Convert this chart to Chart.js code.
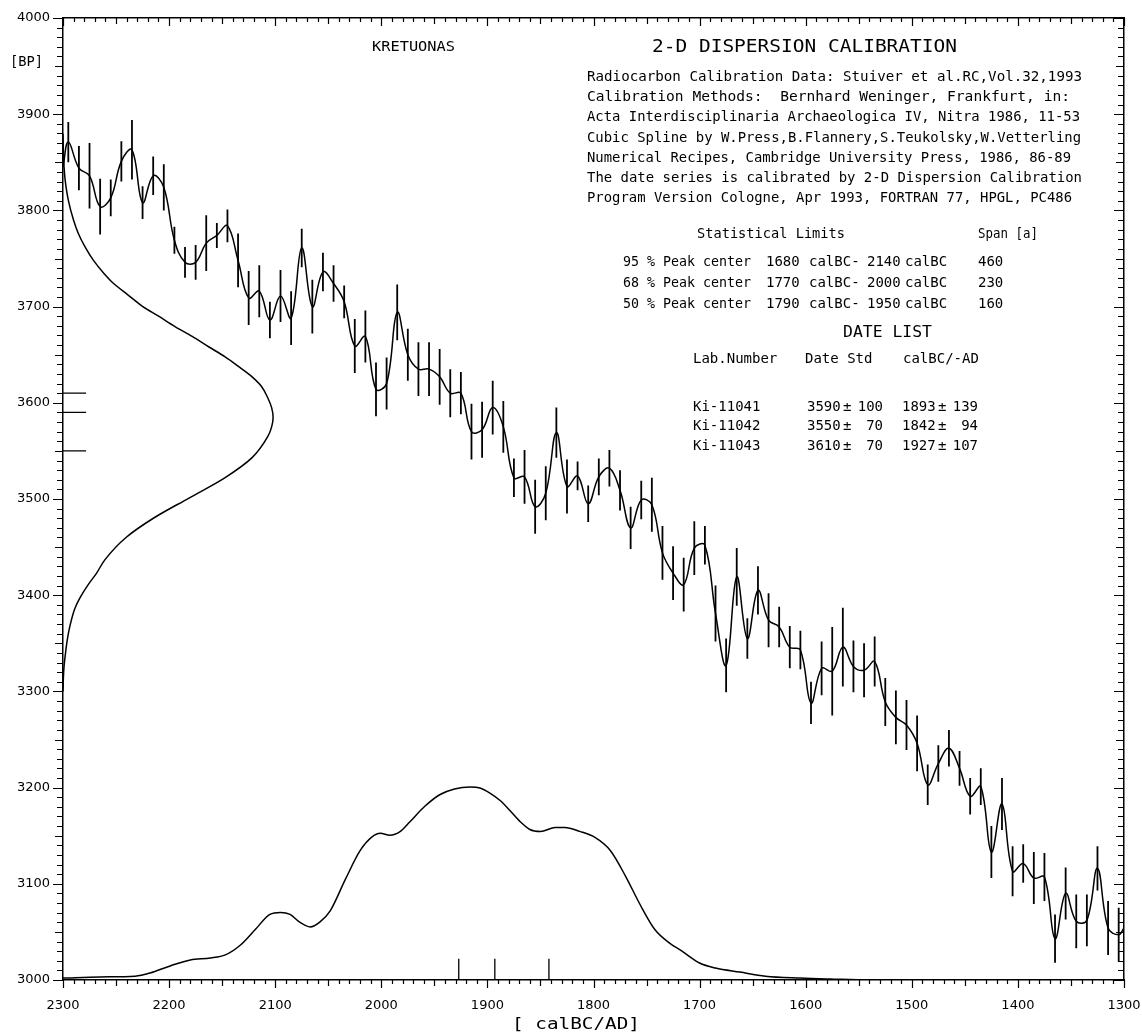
<!DOCTYPE html>
<html>
<head>
<meta charset="utf-8">
<script src="https://cdn.jsdelivr.net/npm/chart.js@4.4.1/dist/chart.umd.min.js"></script>
<style>
html,body{margin:0;padding:0;background:#fff;}
canvas{display:block;}
</style>
</head>
<body>
<canvas id="c" width="1142" height="1032"></canvas>
<script>
// ---------------- data ----------------
const calYears = [2300,
  2295,2285,2275,2265,2255,2245,2235,2225,2215,2205,2195,2185,2175,2165,2155,2145,2135,2125,2115,2105,
  2095,2085,2075,2065,2055,2045,2035,2025,2015,2005,1995,1985,1975,1965,1955,1945,1935,1925,1915,1905,
  1895,1885,1875,1865,1855,1845,1835,1825,1815,1805,1795,1785,1775,1765,1755,1745,1735,1725,1715,1705,
  1695,1685,1675,1665,1655,1645,1635,1625,1615,1605,1595,1585,1575,1565,1555,1545,1535,1525,1515,1505,
  1495,1485,1475,1465,1455,1445,1435,1425,1415,1405,1395,1385,1375,1365,1355,1345,1335,1325,1315,1305,
  1300];
const calBP = [3845,
  3871,3844,3836,3804,3813,3851,3863,3808,3836,3824,3769,3746,3746,3766,3774,3784,3748,3709,3716,3686,
  3711,3688,3761,3700,3736,3724,3705,3659,3669,3614,3620,3694,3650,3635,3635,3627,3610,3610,3570,3572,
  3595,3575,3522,3523,3492,3506,3569,3513,3524,3495,3523,3532,3509,3470,3499,3494,3444,3423,3411,3449,
  3452,3381,3327,3419,3355,3405,3374,3367,3346,3343,3288,3324,3321,3346,3326,3322,3331,3289,3273,3265,
  3246,3203,3225,3241,3220,3191,3201,3133,3183,3113,3121,3106,3107,3043,3090,3061,3062,3116,3054,3047,
  3054];
const calErr = [0,
  21,23,34,29,19,21,31,17,20,24,14,16,18,29,13,17,28,28,27,19,
  27,28,20,28,20,19,17,28,27,28,27,29,27,28,28,29,25,22,29,29,
  28,27,20,28,28,28,26,28,15,19,19,19,21,22,20,28,28,28,28,28,
  20,29,28,30,21,25,28,21,22,20,22,28,46,41,27,28,26,25,28,26,
  29,21,19,19,18,19,19,27,27,26,20,27,25,25,27,28,27,23,28,28,
  0];

// probability of the measured dates on the BP axis (relative)
const bpDensBP = [3880,3860,3845,3832,3811,3790,3776,3762,3748,3735,3724,3712,3700,3690,3679,3669,3658,3648,3637,3627,3617,3605,3595,3585,3575,3565,3543,3522,3501,3480,3460,3437,3423,3411,3397,3386,3367,3353,3338,3326,3315,3300];
const bpDens   = [0,0.002,0.005,0.01,0.025,0.05,0.073,0.105,0.145,0.193,0.241,0.31,0.38,0.455,0.535,0.615,0.695,0.77,0.84,0.9,0.945,0.975,0.993,1.0,0.993,0.975,0.9,0.77,0.6,0.43,0.3,0.2,0.16,0.12,0.08,0.056,0.032,0.02,0.011,0.005,0.002,0];

// calibrated probability on the calendar axis (relative)
const calDensYears = [2300,2265,2232,2218,2199,2180,2161,2147,2133,2119,2105,2095,2086,2077,2067,2058,2048,2034,2020,2009,2001,1992,1982,1973,1959,1945,1931,1916,1907,1898,1888,1879,1869,1860,1850,1836,1827,1813,1799,1784,1770,1756,1742,1728,1718,1700,1685,1662,1638,1605,1577,1539,1511];
const calDens      = [0.01,0.016,0.02,0.036,0.073,0.104,0.114,0.13,0.18,0.26,0.34,0.35,0.34,0.30,0.275,0.30,0.36,0.52,0.67,0.74,0.76,0.75,0.77,0.82,0.90,0.96,0.99,1.0,0.995,0.97,0.93,0.88,0.82,0.78,0.77,0.79,0.79,0.77,0.74,0.67,0.54,0.39,0.26,0.19,0.155,0.088,0.062,0.041,0.02,0.01,0.005,0,0];

// date list
const labIds  = ['Ki-11041','Ki-11042','Ki-11043'];
const labBP   = [3590,3550,3610];
const labStd  = [100,70,70];
const calMean = [1893,1842,1927];
const calStd  = [139,94,107];

// statistical limits
const statPct  = [95,68,50];
const statFrom = [1680,1770,1790];
const statTo   = [2140,2000,1950];
const statSpan = [460,230,160];

// axis tick labels
const xTickVals = [2300,2200,2100,2000,1900,1800,1700,1600,1500,1400,1300];
const yTickVals = [3000,3100,3200,3300,3400,3500,3600,3700,3800,3900,4000];
const markerLen = 0.11; // relative length of the date markers

// ---------------- build datasets ----------------
const curvePts = calYears.map((x,i)=>({x, y: calBP[i]}));
const errPts = [];
calYears.forEach((x,i)=>{
  if (calErr[i] > 0) {
    errPts.push({x, y: calBP[i]-calErr[i]}, {x, y: calBP[i]+calErr[i]}, {x: NaN, y: NaN});
  }
});
const bpDensPts = bpDensBP.map((y,i)=>({x: bpDens[i], y}));
const calDensPts = calDensYears.map((x,i)=>({x, y: calDens[i]}));
const bpMarkPts = [];
labBP.forEach(v=>{ bpMarkPts.push({x:0,y:v},{x:markerLen,y:v},{x:NaN,y:NaN}); });
const calMarkPts = [];
calMean.forEach(v=>{ calMarkPts.push({x:v,y:0},{x:v,y:markerLen},{x:NaN,y:NaN}); });

const baseLine = {type:'line', pointRadius:0, borderColor:'#000', fill:false, spanGaps:false};

const FONT = '"DejaVu Sans", "Liberation Sans", sans-serif';
const MONO = '"DejaVu Sans Mono", monospace';

// text, optionally stretched horizontally to the width it has in the picture
function drawText(ctx, s, x, y, size, width, align) {
  ctx.font = size + 'px ' + MONO;
  const nat = ctx.measureText(s).width;
  const w = width || nat;
  const sx = w / nat;
  let x0 = x;
  if (align === 'right') x0 = x - w;
  if (align === 'center') x0 = x - w/2;
  ctx.save();
  ctx.translate(x0, y);
  ctx.scale(sx, 1);
  ctx.textBaseline = 'middle';
  ctx.textAlign = 'left';
  ctx.fillText(s, 0, 0);
  ctx.restore();
}

const decor = {
  id: 'decor',
  afterDraw(chart) {
    const ctx = chart.ctx, a = chart.chartArea;
    const xs = chart.scales.x, ys = chart.scales.y;
    ctx.save();
    // tick marks on all four sides
    ctx.strokeStyle = '#000';
    ctx.lineWidth = 1.2;
    ctx.beginPath();
    for (let v = 1300; v <= 2300; v += 10) {
      const px = Math.round(xs.getPixelForValue(v)) + 0.5;
      const L = v % 100 === 0 ? 8 : (v % 50 === 0 ? 6 : 4);
      ctx.moveTo(px, a.bottom); ctx.lineTo(px, a.bottom + L);
      ctx.moveTo(px, a.top);    ctx.lineTo(px, a.top + L);
    }
    for (let v = 3000; v <= 4000; v += 10) {
      const py = Math.round(ys.getPixelForValue(v)) + 0.5;
      const L = v % 100 === 0 ? 10 : (v % 50 === 0 ? 8 : 6);
      ctx.moveTo(a.left, py);  ctx.lineTo(a.left - L, py);
      ctx.moveTo(a.right, py); ctx.lineTo(a.right - L, py);
    }
    ctx.stroke();

    ctx.fillStyle = '#000';
    drawText(ctx, '[BP]', 10, 62, 14, 33);
    drawText(ctx, '[ calBC/AD]', 512, 1025, 15, 128);
    drawText(ctx, 'KRETUONAS', 372, 47, 14, 83);
    drawText(ctx, '2-D DISPERSION CALIBRATION', 652, 47, 18, 305);
    const info = [
      ['Radiocarbon Calibration Data: Stuiver et al.RC,Vol.32,1993', 495],
      ['Calibration Methods:  Bernhard Weninger, Frankfurt, in:', 483],
      ['Acta Interdisciplinaria Archaeologica IV, Nitra 1986, 11-53', 493],
      ['Cubic Spline by W.Press,B.Flannery,S.Teukolsky,W.Vetterling', 494],
      ['Numerical Recipes, Cambridge University Press, 1986, 86-89', 484],
      ['The date series is calibrated by 2-D Dispersion Calibration', 495],
      ['Program Version Cologne, Apr 1993, FORTRAN 77, HPGL, PC486', 485]
    ];
    info.forEach((r,i)=> drawText(ctx, r[0], 587, 77 + i*20.3, 14, r[1]));

    drawText(ctx, 'Statistical Limits', 697, 234, 14, 148);
    drawText(ctx, 'Span [a]', 978, 234, 14, 60);
    statPct.forEach((p,i)=>{
      const y = 262 + i*21;
      drawText(ctx, p + ' % Peak center', 623, y, 14, 128);
      drawText(ctx, String(statFrom[i]), 766, y, 14);
      drawText(ctx, 'calBC-', 809, y, 14);
      drawText(ctx, String(statTo[i]), 867, y, 14);
      drawText(ctx, 'calBC', 905, y, 14);
      drawText(ctx, String(statSpan[i]), 978, y, 14);
    });
    drawText(ctx, 'DATE LIST', 843, 333, 16, 89);
    drawText(ctx, 'Lab.Number', 693, 359, 14);
    drawText(ctx, 'Date Std', 805, 359, 14);
    drawText(ctx, 'calBC/-AD', 903, 359, 14);
    labIds.forEach((id,i)=>{
      const y = 407 + i*19.5;
      drawText(ctx, id, 693, y, 14);
      drawText(ctx, String(labBP[i]), 807, y, 14);
      drawText(ctx, '\u00b1', 843, y, 14);
      drawText(ctx, String(labStd[i]), 883, y, 14, null, 'right');
      drawText(ctx, String(calMean[i]), 902, y, 14);
      drawText(ctx, '\u00b1', 938, y, 14);
      drawText(ctx, String(calStd[i]), 978, y, 14, null, 'right');
    });
    ctx.restore();
  }
};

const tickFont = {family: FONT, size: 13};

new Chart(document.getElementById('c'), {
  data: {
    datasets: [
      Object.assign({}, baseLine, {label:'curve', data: curvePts, xAxisID:'x', yAxisID:'y', borderWidth:1.5, tension:0.4}),
      Object.assign({}, baseLine, {label:'errors', data: errPts, xAxisID:'x', yAxisID:'y', borderWidth:1.8, tension:0}),
      Object.assign({}, baseLine, {label:'bpDens', data: bpDensPts, xAxisID:'xd', yAxisID:'y', indexAxis:'y', borderWidth:1.5, cubicInterpolationMode:'monotone'}),
      Object.assign({}, baseLine, {label:'bpMarks', data: bpMarkPts, xAxisID:'xd', yAxisID:'y', borderWidth:1.2, tension:0}),
      Object.assign({}, baseLine, {label:'calDens', data: calDensPts, xAxisID:'x', yAxisID:'yd', borderWidth:1.5, cubicInterpolationMode:'monotone'}),
      Object.assign({}, baseLine, {label:'calMarks', data: calMarkPts, xAxisID:'x', yAxisID:'yd', borderWidth:1.3, tension:0})
    ]
  },
  options: {
    responsive: false,
    animation: false,
    devicePixelRatio: 1,
    layout: {padding: {top: 18, right: 18, left: 0, bottom: 0}},
    plugins: {legend: {display: false}, tooltip: {enabled: false}},
    elements: {line: {capBezierPoints: false}},
    scales: {
      x: {
        type: 'linear', position: 'bottom', reverse: true, min: 1300, max: 2300,
        afterBuildTicks: s => { s.ticks = xTickVals.map(v => ({value: v})); },
        afterFit: s => { s.height = 52; s.paddingLeft = 0; s.paddingRight = 0; },
        ticks: {font: tickFont, color: '#000', padding: 18, maxRotation: 0, autoSkip: false, callback: v => String(v)},
        grid: {display: false, drawTicks: false},
        border: {display: true, color: '#000', width: 1.5}
      },
      y: {
        type: 'linear', position: 'left', min: 3000, max: 4000,
        afterBuildTicks: s => { s.ticks = yTickVals.map(v => ({value: v})); },
        afterFit: s => { s.width = 63; s.paddingTop = 0; s.paddingBottom = 0; },
        ticks: {font: tickFont, color: '#000', padding: 13, autoSkip: false, callback: v => String(v)},
        grid: {display: false, drawTicks: false},
        border: {display: true, color: '#000', width: 1.5}
      },
      xd: {
        type: 'linear', position: 'top', min: 0, max: 5.05,
        afterFit: s => { s.height = 0; s.paddingLeft = 0; s.paddingRight = 0; },
        ticks: {display: false},
        grid: {display: false, drawTicks: false},
        border: {display: true, color: '#000', width: 1.5}
      },
      yd: {
        type: 'linear', position: 'right', min: 0, max: 4.985,
        afterFit: s => { s.width = 0; s.paddingTop = 0; s.paddingBottom = 0; },
        ticks: {display: false},
        grid: {display: false, drawTicks: false},
        border: {display: true, color: '#000', width: 1.5}
      }
    }
  },
  plugins: [decor]
});
</script>
</body>
</html>
